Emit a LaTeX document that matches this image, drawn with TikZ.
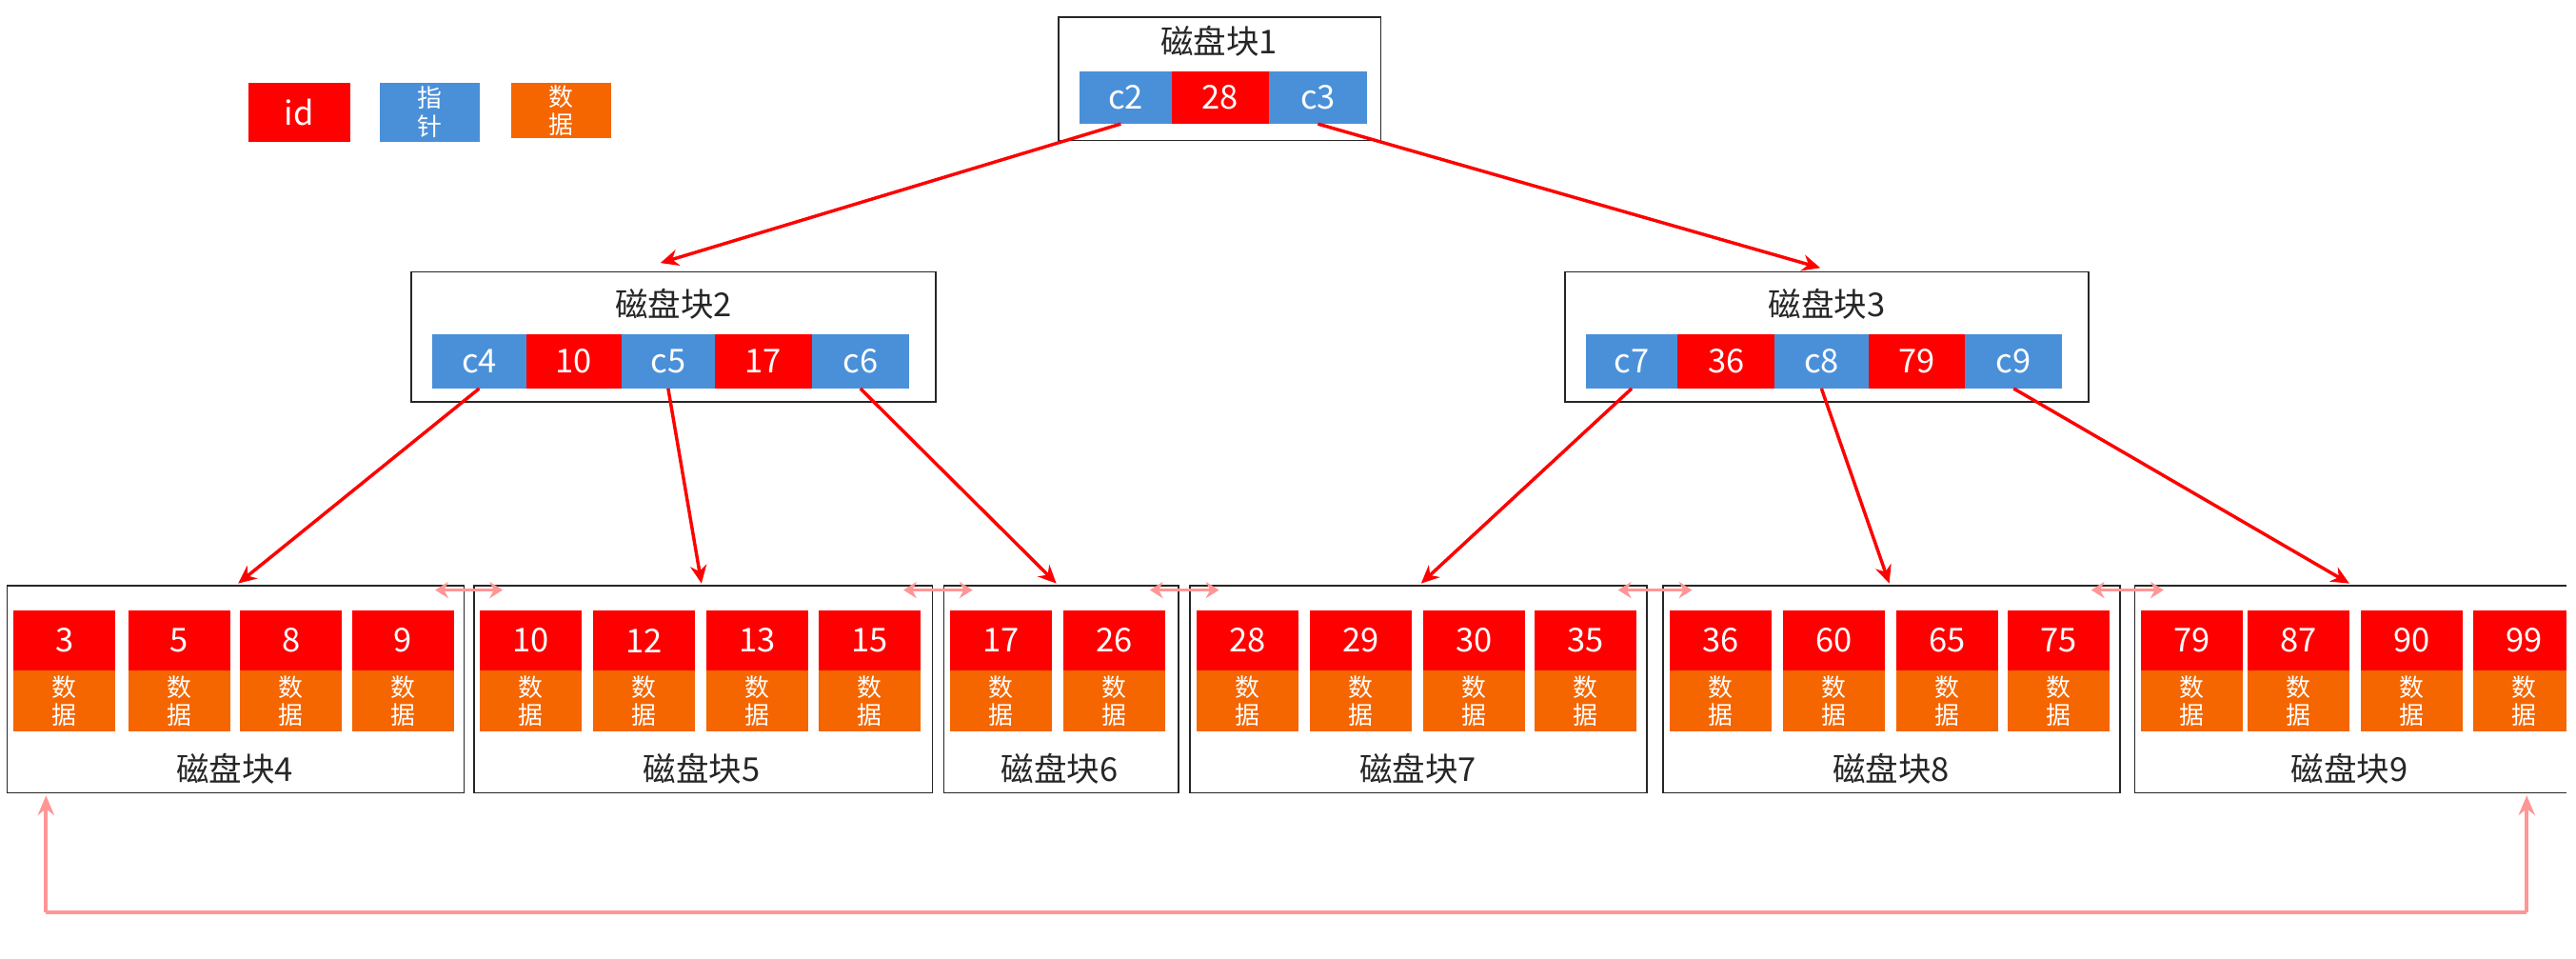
\documentclass[tikz,border=0pt]{standalone}
\usepackage{fontspec}
\setmainfont{Noto Sans CJK SC}
\usetikzlibrary{arrows.meta}
\definecolor{cred}{RGB}{255,0,0}
\definecolor{cblue}{RGB}{74,144,217}
\definecolor{corange}{RGB}{245,102,0}
\definecolor{cpink}{RGB}{255,150,150}
\tikzset{
  cell/.style={fill=#1,text=white,inner sep=0pt,font=\fontsize{20}{22}\selectfont},
  dcell/.style={fill=corange,text=white,inner sep=0pt,font=\fontsize{15}{17}\selectfont,align=center},
  blk/.style={draw=black!85,line width=0.9pt},
  ttl/.style={font=\fontsize{20}{22}\selectfont,text=black!85},
  redar/.style={draw=cred,line width=2pt,-{Stealth[length=11pt,width=10pt]}},
  pinkar/.style={draw=cpink,line width=2.2pt,{Stealth[length=8pt,width=10pt]}-{Stealth[length=8pt,width=10pt]}},
  pinkone/.style={draw=cpink,line width=2.2pt,-{Stealth[length=12pt,width=10pt]}}
}
\newcommand{\mycell}[6]{\node[cell=#1,minimum width=#4pt,minimum height=#5pt,anchor=north west] (#6) at (#2,#3) {#6x};}
\begin{document}
\begin{tikzpicture}[x=1pt,y=-1pt]
\useasboundingbox (0,0) rectangle (1568,583);
% legend
\node[cell=cred,minimum width=62pt,minimum height=36pt,anchor=north west] (lid) at (151,50) {id};
\node[cell=cblue,minimum width=61pt,minimum height=36pt,anchor=north west,font=\fontsize{15}{17}\selectfont,align=center] (lptr) at (231,50) {指\\针};
\node[dcell,minimum width=61pt,minimum height=34pt,anchor=north west] (ldat) at (311,50) {数\\据};
% internal blocks
\newcommand{\ib}[4]{% name, x1,y1,x2,y2 via #2 #3 #4
}
\node[blk,minimum width=196pt,minimum height=75pt,anchor=north west] (b1) at (644,10) {};
\node[ttl] (t1) at (742,25) {磁盘块1};
\foreach \nm/\x/\w/\c/\t in {c2/657/56/cblue/c2,k28/713/59/cred/28,c3/772/60/cblue/c3}
  \node[cell=\c,minimum width=\w pt,minimum height=32pt,anchor=north west] (\nm) at (\x,43) {\t};
\node[blk,minimum width=319pt,minimum height=79pt,anchor=north west] (b2) at (250,165) {};
\node[ttl] (t2) at (410,185) {磁盘块2};
\foreach \nm/\x/\w/\c/\t in {c4/263/57/cblue/c4,k10/320/58/cred/10,c5/378/57/cblue/c5,k17/435/59/cred/17,c6/494/59/cblue/c6}
  \node[cell=\c,minimum width=\w pt,minimum height=33pt,anchor=north west] (\nm) at (\x,203) {\t};
\node[blk,minimum width=319pt,minimum height=79pt,anchor=north west] (b3) at (952,165) {};
\node[ttl] (t3) at (1112,185) {磁盘块3};
\foreach \nm/\x/\w/\c/\t in {c7/965/56/cblue/c7,k36/1021/59/cred/36,c8/1080/57/cblue/c8,k79/1137/59/cred/79,c9/1196/59/cblue/c9}
  \node[cell=\c,minimum width=\w pt,minimum height=33pt,anchor=north west] (\nm) at (\x,203) {\t};
% leaf blocks
\foreach \nm/\x/\w/\tx/\lab in {b4/4/278/143/4,b5/288/279/427/5,b6/574/143/645/6,b7/724/278/863/7,b8/1012/278/1151/8,b9/1299/263/1430/9}{
  \node[blk,minimum width=\w pt,minimum height=126pt,anchor=north west] (\nm) at (\x,356) {};
  \node[ttl] (t\lab) at (\tx,468) {磁盘块\lab};
}
\foreach \x/\t in {8/3,78/5,146/8,214/9,292/10,361/12,430/13,498/15,578/17,647/26,728/28,797/29,866/30,934/35,1016/36,1085/60,1154/65,1222/75,1303/79,1368/87,1437/90,1505/99}{
  \node[cell=cred,minimum width=62pt,minimum height=37pt,anchor=north west] (id\t) at (\x,371) {\t};
  \node[dcell,minimum width=62pt,minimum height=37pt,anchor=north west] (d\t) at (\x,408) {数\\据};
}
% white cover at right edge
\fill[white] (1562,300) rectangle (1568,500);
% coordinates for arrow ends
\coordinate (e2) at (402,160);
\coordinate (e3) at (1108,163);
\coordinate (e4) at (145,355);
\coordinate (e5) at (427,355);
\coordinate (e6) at (643,355);
\coordinate (e7) at (865,355);
\coordinate (e8) at (1150,355);
\coordinate (e9) at (1430,355);
\draw[redar] ([xshift=-3pt]c2.south) -- (e2);
\draw[redar] (c3.south) -- (e3);
\draw[redar] (c4.south) -- (e4);
\draw[redar] (c5.south) -- (e5);
\draw[redar] (c6.south) -- (e6);
\draw[redar] (c7.south) -- (e7);
\draw[redar] (c8.south) -- (e8);
\draw[redar] (c9.south) -- (e9);
% sibling links
\foreach \a/\b in {b4/b5,b5/b6,b6/b7,b7/b8,b8/b9}
  \draw[pinkar] ([xshift=-18pt,yshift=-3pt]\a.north east) -- ([xshift=18pt,yshift=-3pt]\b.north west);
% bottom loop
\coordinate (lp1) at (28,555);
\coordinate (lp2) at (1538,555);
\draw[pinkone] (lp2) -- (1538,484);
\draw[pinkone] (lp1) -- (28,484);
\draw[cpink,line width=2.2pt] (lp1) -- (lp2);
\end{tikzpicture}
\end{document}
